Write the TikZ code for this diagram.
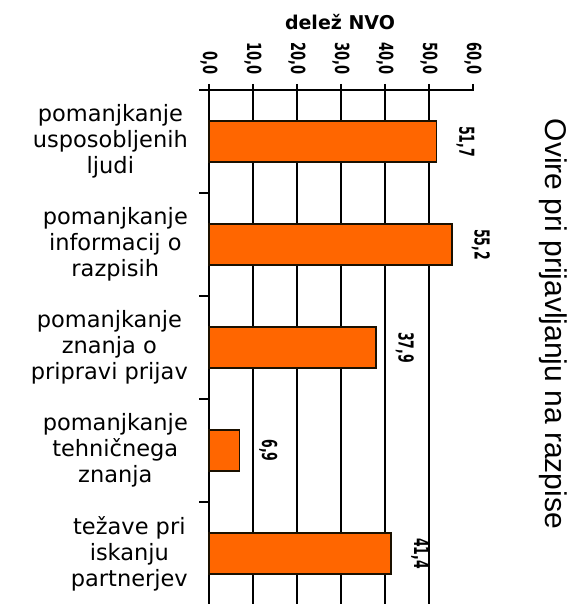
\documentclass[tikz,border=0pt]{standalone}
\usepackage{graphicx}
\usepackage{fontspec}
\setmainfont{DejaVu Sans}
\newfontfamily\titlefont{Liberation Sans}
\definecolor{barorange}{HTML}{FF6600}
\definecolor{baredge}{HTML}{1A1000}
\newcommand{\tallnum}[2]{\scalebox{1}[#1]{#2}}
\begin{document}
\begin{tikzpicture}[x=1pt,y=-1pt,
  gridline/.style={line width=2pt,black},
  axisline/.style={line width=2pt,black},
  barbox/.style={fill=barorange,draw=baredge,line width=1.6pt},
  ticklabel/.style={rotate=-90,anchor=east,inner sep=0pt,font=\bfseries\fontsize{13}{15}\selectfont},
  vallabel/.style={rotate=-90,inner sep=0pt,font=\bfseries\fontsize{12.5}{15}\selectfont},
  catlabel/.style={anchor=east,align=center,inner sep=0pt,font=\fontsize{22.5}{26}\selectfont},
  titlelabel/.style={rotate=-90,inner sep=0pt,font=\titlefont\fontsize{30}{33}\selectfont},
  axtitle/.style={inner sep=0pt,font=\bfseries\fontsize{19}{21}\selectfont}]
\useasboundingbox[fill=white] (0,0) rectangle (575,604);
% grid lines
\foreach \k in {1,...,5}{
  \draw[gridline] ({209+44*\k},84) -- ({209+44*\k},604);
}
\draw[axisline] (473,84) -- (473,91);
% axes
\draw[axisline] (209,84) -- (209,604);
\draw[axisline] (199,90) -- (474,90);
\foreach \k in {1,...,5}{
  \draw[axisline] (199,{90+103*\k}) -- (209,{90+103*\k});
}
% tick labels
\foreach \k/\t in {0/{0,0},1/{10,0},2/{20,0},3/{30,0},4/{40,0},5/{50,0},6/{60,0}}{
  \node[ticklabel] (tl\k) at ({209+44*\k},75) {\tallnum{1.5}{\t}};
}
\node[axtitle] (axt) at (340,22) {delež NVO};
% bars
\foreach \i/\v/\t in {1/51.7/{51,7},2/55.2/{55,2},3/37.9/{37,9},4/6.9/{6,9},5/41.4/{41,4}}{
  \pgfmathsetmacro\yc{90+103*(\i-0.5)}
  \pgfmathsetmacro\xe{209+4.4*\v}
  \draw[barbox] (209,\yc-20.5) rectangle (\xe,\yc+20.5);
  \node[vallabel] (val\i) at (\xe+29,\yc) {\tallnum{1.65}{\t}};
}
% category labels
\node[catlabel] (c1) at (188,141.5) {pomanjkanje\\usposobljenih\\ljudi};
\node[catlabel] (c2) at (188,244.5) {pomanjkanje\\informacij o\\razpisih};
\node[catlabel] (c3) at (188,347.5) {pomanjkanje\\znanja o\\pripravi prijav};
\node[catlabel] (c4) at (188,450.5) {pomanjkanje\\tehničnega\\znanja};
\node[catlabel] (c5) at (188,553.5) {težave pri\\iskanju\\partnerjev};
% title
\node[titlelabel] (title) at (553,324) {Ovire pri prijavljanju na razpise};
\end{tikzpicture}
\end{document}
